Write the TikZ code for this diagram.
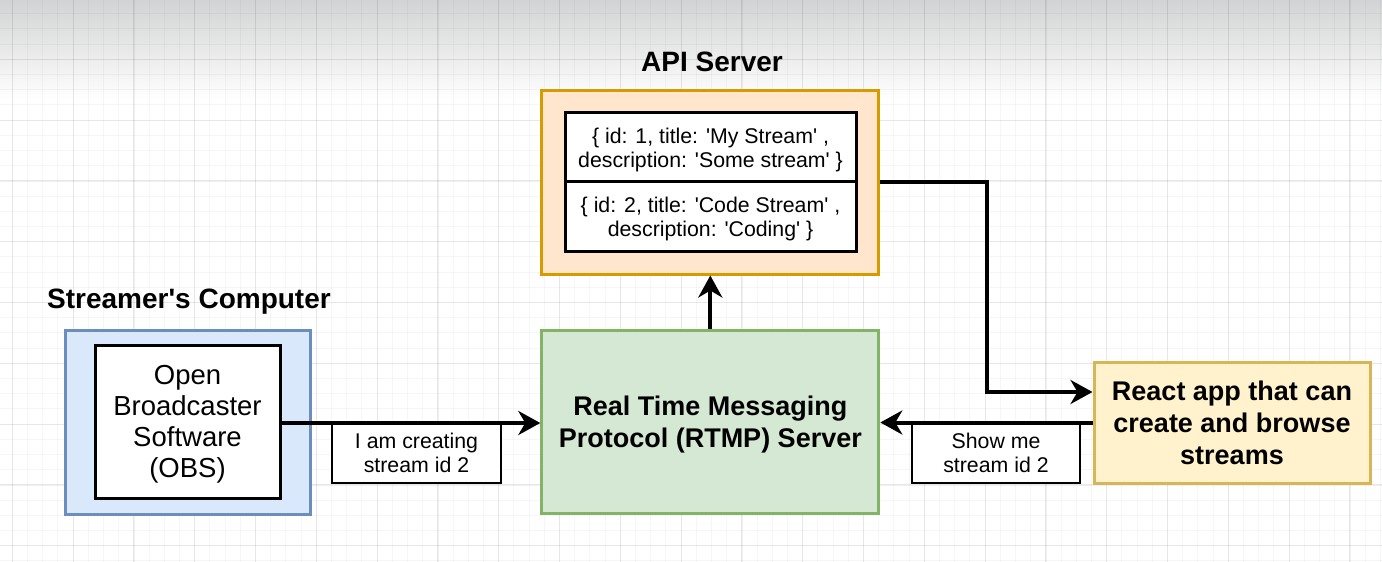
\documentclass[tikz,border=0pt]{standalone}
\usepackage{fontspec}
\setmainfont{Liberation Sans}[Ligatures=TeXOff]
\usetikzlibrary{arrows.meta}
\definecolor{bluefill}{HTML}{DAE8FC}
\definecolor{bluedraw}{HTML}{6C8EBF}
\definecolor{greenfill}{HTML}{D5E8D4}
\definecolor{greendraw}{HTML}{82B366}
\definecolor{orangefill}{HTML}{FFE6CC}
\definecolor{orangedraw}{HTML}{D79B00}
\definecolor{yellowfill}{HTML}{FFF2CC}
\definecolor{yellowdraw}{HTML}{D6B656}
\definecolor{topgray}{HTML}{D2D3D4}
\tikzset{
  container/.style={draw, line width=3pt, inner sep=0pt, text depth=0pt},
  whitebox/.style={draw=black, fill=white, line width=3pt, inner sep=0pt, align=center, text depth=0pt},
  bodytext/.style={font=\fontsize{27.5}{31}\selectfont},
  smalltext/.style={font=\fontsize{21.3}{24}\selectfont},
  boldtext/.style={font=\fontsize{27}{32}\selectfont\bfseries},
  titletext/.style={font=\fontsize{28}{32}\selectfont\bfseries},
  labelbox/.style={whitebox, line width=2.5pt, smalltext},
  arr/.style={line width=4pt, -{Stealth[length=22pt,width=24pt,inset=7pt]}},
  minorgrid/.style={line width=1pt, black, opacity=0.035},
  majorgrid/.style={line width=1.2pt, black, opacity=0.06},
}
\begin{document}
\begin{tikzpicture}[x=1pt,y=-1pt]
\useasboundingbox (0,0) rectangle (1382,562);
\fill[white] (0,0) rectangle (1382,562);
\shade[top color=topgray, bottom color=white] (0,0) rectangle (1382,100);
\foreach \i in {0,...,91} {\draw[minorgrid] ({-2.9+15.2*\i},0) -- ({-2.9+15.2*\i},562);}
\foreach \i in {0,...,38} {\draw[minorgrid] (0,{-1.5+15.2*\i}) -- (1382,{-1.5+15.2*\i});}
\foreach \i in {0,...,22} {\draw[majorgrid] ({12.3+60.8*\i},0) -- ({12.3+60.8*\i},562);}
\foreach \i in {0,...,9} {\draw[majorgrid] (0,{59.3+60.8*\i}) -- (1382,{59.3+60.8*\i});}

% titles
\node[titletext] (apititle) at (712,62) {API Server};
\node[titletext] (comptitle) at (189,302) {Streamer's Computer};

% streamer's computer
\node[container, draw=bluedraw, fill=bluefill, minimum width=245pt, minimum height=184pt] (comp) at (187.5,422) {};
\node[whitebox, bodytext, minimum width=185pt, minimum height=153pt] (obs) at (187.5,421.5) {Open\\Broadcaster\\Software\\(OBS)};

% RTMP server
\node[container, draw=greendraw, fill=greenfill, minimum width=337pt, minimum height=183pt, boldtext, align=center] (rtmp) at (710.3,421.5) {Real Time Messaging\\Protocol (RTMP) Server};

% API server
\node[container, draw=orangedraw, fill=orangefill, minimum width=337pt, minimum height=184pt] (api) at (710.3,182) {};
\node[whitebox, smalltext, minimum width=291pt, minimum height=70.5pt] (rec1) at (710.5,147.5) {\{ id: 1, title: 'My Stream' ,\\description: 'Some stream' \}};
\node[whitebox, smalltext, minimum width=291pt, minimum height=70.5pt] (rec2) at (710.5,216.5) {\{ id: 2, title: 'Code Stream' ,\\description: 'Coding' \}};

% React app
\node[container, draw=yellowdraw, fill=yellowfill, minimum width=276pt, minimum height=121pt, boldtext, align=center] (react) at (1232,422.5) {React app that can\\create and browse\\streams};

% labels
\node[labelbox, minimum width=169pt, minimum height=60pt] (lab1) at (416.5,453) {I am creating\\stream id 2};
\node[labelbox, minimum width=168pt, minimum height=61pt] (lab2) at (996,452.5) {Show me\\stream id 2};

% connectors
\coordinate (bend) at (987,392);
\draw[arr] (obs.east |- 0,423) -- (rtmp.west |- 0,423);
\draw[arr] (rtmp.north) -- (api.south);
\draw[arr] (api.east) -| (bend) -- (bend -| react.west);
\draw[arr] (react.west) -- (rtmp.east |- react.west);
\end{tikzpicture}
\end{document}
